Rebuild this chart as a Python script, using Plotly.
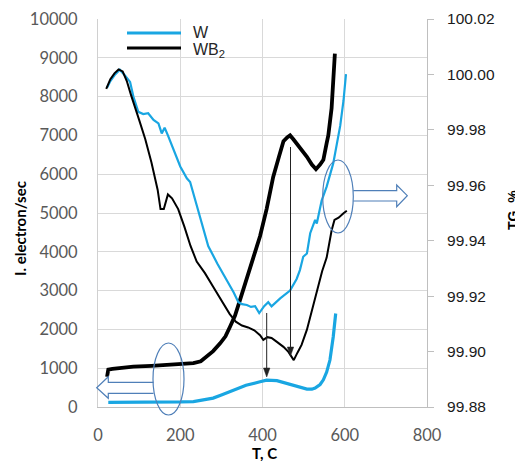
import plotly.graph_objects as go

# ---------------- data ----------------
# Ion current, W (left axis)
t_ion_w = [25, 60, 100, 150, 200, 232, 250, 265, 280, 300, 329, 360, 394, 410, 435,
           455, 475, 495, 508, 520, 528, 540, 548, 556, 564, 572, 578]
i_ion_w = [120, 120, 115, 125, 130, 140, 170, 200, 230, 310, 440, 560, 650, 690, 680,
           620, 570, 500, 460, 460, 490, 580, 700, 900, 1210, 1810, 2410]

# Ion current, WB2 (left axis)
t_ion_wb2 = [22, 25, 35, 50, 86, 130, 167, 200, 232, 250, 264, 280, 297, 310, 321, 333,
             345, 357, 370, 382, 394, 410, 426, 440, 451, 460, 467, 475, 483, 495, 508,
             520, 530, 540, 548, 556, 560, 568, 576]
i_ion_wb2 = [780, 960, 980, 1000, 1040, 1060, 1080, 1100, 1130, 1180, 1290, 1440, 1640,
             1820, 2070, 2350, 2750, 3150, 3550, 3950, 4400, 5100, 5930, 6450, 6850, 6950,
             7000, 6900, 6800, 6620, 6450, 6250, 6130, 6250, 6370, 6800, 7000, 7700, 9110]

# TG, W (right axis)
t_tg_w = [22, 30, 40, 53, 65, 78, 86, 98, 110, 122, 135, 147, 155, 162, 170, 185, 200,
          216, 224, 240, 256, 268, 290, 313, 330, 341, 350, 362, 372, 382, 392, 404, 414,
          422, 443, 467, 483, 491, 499, 508, 516, 528, 532, 544, 556, 572, 582, 589, 597, 603]
tg_w = [99.9952, 99.9976, 99.9997, 100.0017, 99.9997, 99.9973, 99.9920, 99.9865, 99.9857,
        99.9860, 99.9836, 99.9823, 99.9787, 99.9808, 99.9780, 99.9724, 99.9668, 99.9625,
        99.9612, 99.9528, 99.9438, 99.9381, 99.9318, 99.9258, 99.9213, 99.9179, 99.9171,
        99.9168, 99.9161, 99.9164, 99.9139, 99.9164, 99.9178, 99.9163, 99.9192, 99.9220,
        99.9262, 99.9294, 99.9342, 99.9354, 99.9427, 99.9475, 99.9462, 99.9546, 99.9595,
        99.9679, 99.9766, 99.9815, 99.9906, 100.0001]

# TG, WB2 (right axis)
t_tg_wb2 = [20, 30, 40, 50, 60, 70, 80, 90, 100, 115, 130, 145, 152, 160, 170, 180, 195,
            210, 225, 240, 260, 280, 300, 320, 335, 350, 365, 380, 394, 402, 412, 422, 435,
            451, 463, 470, 476, 485, 495, 508, 520, 532, 545, 556, 568, 575, 585, 597, 605]
tg_wb2 = [99.9948, 99.9983, 100.0004, 100.0018, 100.0011, 99.9976, 99.9927, 99.9878,
          99.9836, 99.9766, 99.9682, 99.9584, 99.9514, 99.9514, 99.9567, 99.9553, 99.9514,
          99.9451, 99.9381, 99.9325, 99.9283, 99.9234, 99.9185, 99.9136, 99.9108, 99.9094,
          99.9087, 99.9077, 99.9059, 99.9042, 99.9052, 99.9049, 99.9035, 99.9017, 99.8999,
          99.8982, 99.8969, 99.8996, 99.9024, 99.9079, 99.9150, 99.9216, 99.9290, 99.9339,
          99.9437, 99.9475, 99.9483, 99.9499, 99.9508]

series_names = ["W", "WB<sub>2</sub>"]
x_ticks = [0, 200, 400, 600, 800]

# ---------------- layout constants ----------------
# page has an 8px body margin; plot area in page pixels: x 98..427, y 19..407
OFF = 8
PAGE_W, PAGE_H = 523, 461
PL, PR, PT, PB = 98, 427, 19, 407
W, H = PAGE_W - OFF, PAGE_H - OFF
ML, MR, MT, MB = PL - OFF, PAGE_W - PR, PT - OFF, PAGE_H - PB
PW, PH = PR - PL, PB - PT
BLUE = "#19a6e2"
BLACK = "#000000"
OUTLINE = "#4f7fb8"
GRID = "#d9d9d9"
ARROW = "#222222"


def px(x):
    return (x - PL) / PW


def py(y):
    return (PB - y) / PH


fig = go.Figure()
fig.add_trace(go.Scatter(x=t_tg_w, y=tg_w, yaxis="y2", mode="lines", name="W TG",
                         line=dict(color=BLUE, width=2.2), showlegend=False))
fig.add_trace(go.Scatter(x=t_tg_wb2, y=tg_wb2, yaxis="y2", mode="lines", name="WB2 TG",
                         line=dict(color=BLACK, width=2), showlegend=False))
fig.add_trace(go.Scatter(x=t_ion_w, y=i_ion_w, mode="lines", name="W ion",
                         line=dict(color=BLUE, width=3.2), showlegend=False))
fig.add_trace(go.Scatter(x=t_ion_wb2, y=i_ion_wb2, mode="lines", name="WB2 ion",
                         line=dict(color=BLACK, width=3.8), showlegend=False))

shapes = []
# manual legend
shapes.append(dict(type="line", xref="paper", yref="paper", x0=px(127), x1=px(181),
                   y0=py(33), y1=py(33), line=dict(color=BLUE, width=3)))
shapes.append(dict(type="line", xref="paper", yref="paper", x0=px(127), x1=px(181),
                   y0=py(48), y1=py(48), line=dict(color=BLACK, width=3)))
# ellipses
shapes.append(dict(type="circle", xref="paper", yref="paper", x0=px(153), x1=px(184),
                   y0=py(415), y1=py(343), line=dict(color=OUTLINE, width=1.2)))
shapes.append(dict(type="circle", xref="paper", yref="paper", x0=px(322.7), x1=px(353.3),
                   y0=py(233), y1=py(160), line=dict(color=OUTLINE, width=1.2)))


def path_of(pts, close=False):
    d = "M " + " L ".join(f"{px(a):.4f},{py(b):.4f}" for a, b in pts)
    return d + (" Z" if close else "")


shapes.append(dict(type="path", xref="paper", yref="paper",
                   path=path_of([(153.5, 382.3), (108.3, 382.3), (108.3, 376.7), (96.7, 387.7),
                                 (108.3, 398.3), (108.3, 393.3), (153.5, 393.3)]),
                   line=dict(color=OUTLINE, width=1.2)))
shapes.append(dict(type="path", xref="paper", yref="paper",
                   path=path_of([(353.3, 190.7), (396.7, 190.7), (396.7, 185), (407.3, 195.7),
                                 (396.7, 206.7), (396.7, 201), (353.3, 201)]),
                   line=dict(color=OUTLINE, width=1.2)))


def down_arrow(x, y_top, y_tip):
    shapes.append(dict(type="line", xref="paper", yref="paper", x0=px(x), x1=px(x),
                       y0=py(y_top), y1=py(y_tip - 4), line=dict(color=ARROW, width=1)))
    shapes.append(dict(type="path", xref="paper", yref="paper",
                       path=path_of([(x - 3.2, y_tip - 9), (x + 3.2, y_tip - 9), (x, y_tip)],
                                    close=True),
                       fillcolor=ARROW, line=dict(color=ARROW, width=0.5)))


down_arrow(290.5, 147, 356)
down_arrow(266.7, 313, 377)

annotations = [
    dict(xref="paper", yref="paper", x=px(191), y=py(33), text=series_names[0],
         showarrow=False, xanchor="left", yanchor="middle",
         font=dict(family="Liberation Sans, Arial", size=16, color="#262626")),
    dict(xref="paper", yref="paper", x=px(191), y=py(50), text=series_names[1],
         showarrow=False, xanchor="left", yanchor="middle",
         font=dict(family="Liberation Sans, Arial", size=16, color="#262626")),
    dict(xref="paper", yref="paper", x=px(513), y=py(210), text="<b>TG, %</b>",
         textangle=-90, showarrow=False, xanchor="center", yanchor="middle",
         font=dict(family="Liberation Sans, Arial", size=14, color="#000000")),
    dict(xref="paper", yref="paper", x=px(264), y=py(453), text="<b>T, C</b>",
         showarrow=False, xanchor="center", yanchor="middle",
         font=dict(family="Lato", size=15, color="#000000")),
    dict(xref="paper", yref="paper", x=px(20), y=py(229), text="<b>I. electron/sec</b>",
         textangle=-90, showarrow=False, xanchor="center", yanchor="middle",
         font=dict(family="Lato", size=15, color="#000000")),
]

fig.update_layout(
    width=W, height=H,
    margin=dict(l=ML, r=MR, t=MT, b=MB, pad=0, autoexpand=False),
    paper_bgcolor="white", plot_bgcolor="white",
    showlegend=False,
    shapes=shapes, annotations=annotations,
    xaxis=dict(range=[0, 800], tickvals=x_ticks, showgrid=True, gridcolor=GRID,
               gridwidth=1, zeroline=False, showline=True, linecolor="#bfbfbf",
               automargin=False,
               tickfont=dict(family="Lato", size=16.5, color="#595959"),
               ticklabelstandoff=13),
    yaxis=dict(range=[0, 10000], dtick=1000, tickformat="d", showgrid=True, gridcolor=GRID,
               gridwidth=1, zeroline=False, showline=True, linecolor="#d0d0d0",
               automargin=False,
               tickfont=dict(family="Lato", size=16.5, color="#595959"),
               ticklabelstandoff=16),
    yaxis2=dict(range=[99.88, 100.02], dtick=0.02, tickformat=".2f", overlaying="y",
                side="right", showgrid=False, zeroline=False, showline=True,
                linecolor="#bfbfbf", ticks="outside", ticklen=6, tickcolor="#bfbfbf",
                automargin=False,
                tickfont=dict(family="Liberation Sans, Arial", size=15.5, color="#1a1a1a"),
                ticklabelstandoff=10),
)

fig.write_html("out.html")
